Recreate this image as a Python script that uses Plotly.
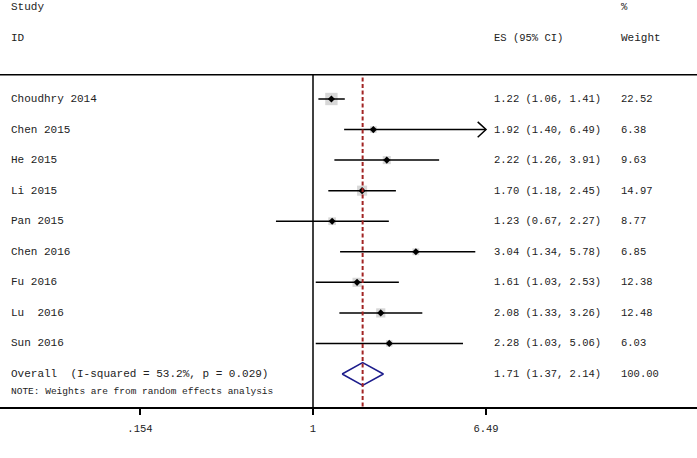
import math
import plotly.graph_objects as go

# study rows
studies = ["Choudhry 2014", "Chen 2015", "He 2015", "Li 2015", "Pan 2015",
           "Chen 2016", "Fu 2016", "Lu \u00a02016", "Sun 2016"]
es = [1.22, 1.92, 2.22, 1.70, 1.23, 3.04, 1.61, 2.08, 2.28]
ci_low = [1.06, 1.40, 1.26, 1.18, 0.67, 1.34, 1.03, 1.33, 1.03]
ci_high = [1.41, 6.49, 3.91, 2.45, 2.27, 5.78, 2.53, 3.26, 5.06]
weights = [22.52, 6.38, 9.63, 14.97, 8.77, 6.85, 12.38, 12.48, 6.03]
overall = [1.71, 1.37, 2.14]
overall_label = "Overall  (I-squared = 53.2%, p = 0.029)"
overall_weight = "100.00"
tick_vals = [0.154, 1, 6.49]
tick_text = [".154", "1", "6.49"]
axis_max = 6.49

FONT = "Liberation Mono"
TXT = "#222222"
W, H = 697, 458

# rows go downward: y = -row
ys = [-i for i in range(len(studies))]
y_over = -len(studies)

fig = go.Figure()

# weight boxes
fig.add_trace(go.Scatter(
    x=es, y=ys, mode="markers",
    marker=dict(symbol="square", size=[2.6 * math.sqrt(w) for w in weights],
                color="#c6c6c6", line=dict(width=0)),
    hoverinfo="skip"))

# confidence intervals
cx, cy = [], []
for lo, hi, y in zip(ci_low, ci_high, ys):
    cx += [lo, hi, None]
    cy += [y, y, None]
fig.add_trace(go.Scatter(x=cx, y=cy, mode="lines",
                         line=dict(color="black", width=1.5), hoverinfo="skip"))

# arrow where CI reaches the axis end
ax, ay = [], []
for hi, y in zip(ci_high, ys):
    if hi >= axis_max:
        k = math.exp(-0.09)
        ax += [hi * k, hi, hi * k, None]
        ay += [y + 0.25, y, y - 0.25, None]
fig.add_trace(go.Scatter(x=ax, y=ay, mode="lines",
                         line=dict(color="black", width=1.5), hoverinfo="skip"))

# point estimates
fig.add_trace(go.Scatter(x=es, y=ys, mode="markers",
                         marker=dict(symbol="diamond", size=5.5, color="black"),
                         hoverinfo="skip"))

# overall diamond
est, lo, hi = overall
fig.add_trace(go.Scatter(x=[lo, est, hi, est, lo], y=[y_over, y_over + 0.37, y_over, y_over - 0.37, y_over],
                         mode="lines", line=dict(color="#1c1c8c", width=1.5), hoverinfo="skip"))

y_top = 0.79
y_bot = -10.08
fig.add_shape(type="line", xref="paper", yref="y", x0=0, x1=1, y0=y_top, y1=y_top,
              line=dict(color="black", width=1.5))
fig.add_shape(type="line", xref="x", yref="y", x0=1, x1=1, y0=y_top, y1=y_bot,
              line=dict(color="black", width=1.5))
fig.add_shape(type="line", xref="x", yref="y", x0=est, x1=est, y0=0.7, y1=y_bot,
                line=dict(color="#a22424", width=2, dash="4px,2.5px"))

def label(x_px, y, text, size=10.5):
    fig.add_annotation(x=x_px / W, y=y, xref="paper", yref="y", text=text,
                       showarrow=False, xanchor="left", yanchor="middle",
                       font=dict(family=FONT, size=size, color=TXT))

label(9, 3.0, "Study", 11)
label(9, 2.0, "ID", 11)
label(619, 3.0, "%")
label(619, 2.0, "Weight", 11)
label(492, 2.0, "ES (95% CI)")

for name, e, lo_, hi_, w, y in zip(studies, es, ci_low, ci_high, weights, ys):
    label(9, y, name, 11)
    label(492, y, f"{e:.2f} ({lo_:.2f}, {hi_:.2f})")
    label(619, y, f"{w:.2f}")

label(9, y_over, overall_label, 11)
label(492, y_over, f"{est:.2f} ({lo:.2f}, {hi:.2f})")
label(619, y_over, overall_weight)
label(9, -9.56, "NOTE: Weights are from random effects analysis", size=9.5)

fig.update_layout(
    width=W, height=H,
    margin=dict(l=0, r=0, t=0, b=51),
    paper_bgcolor="white", plot_bgcolor="white",
    showlegend=False,
    xaxis=dict(type="log", range=[-1.4695, 1.8028],
               tickvals=tick_vals, ticktext=tick_text,
               ticks="outside", ticklen=6, tickwidth=1.5, tickcolor="black",
               ticklabelstandoff=5,
               showline=True, linecolor="black", linewidth=1.5,
               showgrid=False, zeroline=False,
               tickfont=dict(family=FONT, size=10.5, color=TXT)),
    yaxis=dict(range=[y_bot, 3.24], visible=False, showgrid=False, zeroline=False),
)

# page body margin would push the figure off its 697x458 frame
fig.write_html("out.html", config={"displayModeBar": False},
               post_script="document.body.style.margin='0';")
